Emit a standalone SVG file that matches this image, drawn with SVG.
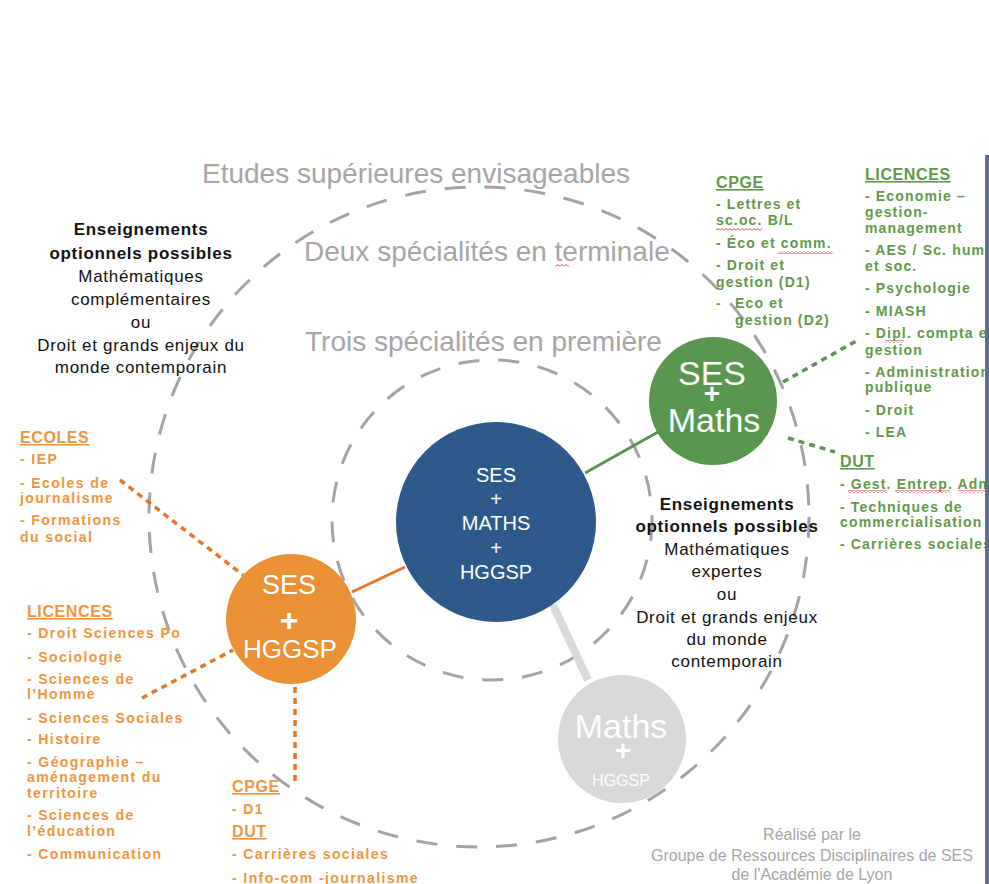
<svg xmlns="http://www.w3.org/2000/svg" width="989" height="884" viewBox="0 0 989 884">
<defs>
<style>
.title{font-family:"Liberation Sans",Arial,sans-serif;font-size:28px;fill:#A6A6A6}
.blk{font-family:"Liberation Sans",Arial,sans-serif;font-size:17px;fill:#111;letter-spacing:0.7px;text-anchor:middle}
.blk .b{font-weight:bold}
.g{font-family:"Liberation Sans",Arial,sans-serif;font-size:14px;font-weight:bold;fill:#62994A;letter-spacing:1.15px}
.o{font-family:"Liberation Sans",Arial,sans-serif;font-size:14px;font-weight:bold;fill:#F0953E;letter-spacing:1.4px}
.hd{font-size:16px;letter-spacing:0.6px;text-decoration:underline}
.ring{fill:none;stroke:#A3A3A3;stroke-width:3;stroke-dasharray:21 19}
.nt{font-family:"Liberation Sans",Arial,sans-serif;fill:#FFFFFF;text-anchor:middle}
.credit{font-family:"Liberation Sans",Arial,sans-serif;font-size:16px;fill:#A6A6A6;text-anchor:middle}
.dotg{stroke:#5A9650;stroke-width:3.5;stroke-dasharray:6 5;fill:none}
.doto{stroke:#E6762A;stroke-width:3.5;stroke-dasharray:6 5;fill:none}
</style>
<pattern id="wave" width="4" height="3" patternUnits="userSpaceOnUse">
<path d="M0,2.5 L2,0.5 L4,2.5" fill="none" stroke="#E02020" stroke-width="0.9"/>
</pattern>
<clipPath id="rightclip"><rect x="0" y="0" width="985" height="884"/></clipPath>
</defs>
<rect width="989" height="884" fill="#FFFFFF"/>

<g id="rings">
<circle class="ring" cx="479" cy="517" r="330"/>
<circle class="ring" cx="492" cy="520" r="160"/>
</g>

<g id="titles">
<text class="title" x="202" y="183">Etudes supérieures envisageables</text>
<text class="title" x="304" y="261">Deux spécialités en terminale</text>
<text class="title" x="305" y="351">Trois spécialités en première</text>
</g>

<g id="connectors">
<line x1="585" y1="473" x2="658" y2="432" stroke="#5A9650" stroke-width="3"/>
<line x1="405" y1="567" x2="352" y2="592" stroke="#E6762A" stroke-width="3"/>
<line x1="553" y1="605" x2="588" y2="680" stroke="#DADADA" stroke-width="8"/>
<line class="dotg" x1="783" y1="382" x2="858" y2="340"/>
<line class="dotg" x1="788" y1="438" x2="835" y2="452"/>
<line class="doto" x1="120" y1="480" x2="243" y2="575"/>
<line class="doto" x1="142" y1="698" x2="233" y2="650"/>
<line class="doto" x1="295" y1="687" x2="295" y2="783"/>
</g>

<g id="node-ses-maths-hggsp">
<circle cx="496" cy="522" r="100" fill="#2E5A8B"/>
<text class="nt" font-size="20" x="496" y="482">SES</text>
<text class="nt" font-size="20" x="496" y="506">+</text>
<text class="nt" font-size="20" x="496" y="530">MATHS</text>
<text class="nt" font-size="20" x="496" y="555">+</text>
<text class="nt" font-size="20" x="496" y="579">HGGSP</text>
</g>

<g id="node-ses-maths">
<circle cx="713" cy="401" r="64" fill="#5A9650"/>
<text class="nt" font-size="34" x="712" y="385">SES</text>
<text class="nt" font-size="28" font-weight="bold" x="712" y="403">+</text>
<text class="nt" font-size="34" x="714" y="432">Maths</text>
</g>

<g id="node-ses-hggsp">
<circle cx="291" cy="619" r="65" fill="#EA9035"/>
<text class="nt" font-size="27" x="289" y="594">SES</text>
<text class="nt" font-size="32" font-weight="bold" x="289" y="631">+</text>
<text class="nt" font-size="26" x="290" y="658">HGGSP</text>
</g>

<g id="node-maths-hggsp">
<circle cx="622" cy="739" r="64" fill="#D9D9D9"/>
<text class="nt" font-size="34" x="621" y="738">Maths</text>
<text class="nt" font-size="28" font-weight="bold" x="623" y="760">+</text>
<text class="nt" font-size="16" x="621" y="786">HGGSP</text>
</g>

<g id="options-premiere" class="blk">
<text class="b" x="141" y="235">Enseignements</text>
<text class="b" x="141" y="259">optionnels possibles</text>
<text x="141" y="282">Mathématiques</text>
<text x="141" y="305">complémentaires</text>
<text x="141" y="328">ou</text>
<text x="141" y="351">Droit et grands enjeux du</text>
<text x="141" y="373">monde contemporain</text>
</g>

<g id="options-terminale" class="blk">
<text class="b" x="727" y="510">Enseignements</text>
<text class="b" x="727" y="532">optionnels possibles</text>
<text x="727" y="555">Mathématiques</text>
<text x="727" y="577">expertes</text>
<text x="727" y="600">ou</text>
<text x="727" y="623">Droit et grands enjeux</text>
<text x="727" y="645">du monde</text>
<text x="727" y="667">contemporain</text>
</g>

<g id="green-cpge" class="g">
<text class="hd" x="716" y="188">CPGE</text>
<text x="716" y="209">- Lettres et</text>
<text x="716" y="225">sc.oc. B/L</text>
<text x="716" y="248">- Éco et comm.</text>
<text x="716" y="270">- Droit et</text>
<text x="716" y="287">gestion (D1)</text>
<text x="716" y="308">-</text>
<text x="735" y="308">Eco et</text>
<text x="735" y="325">gestion (D2)</text>
</g>

<g id="green-licences" class="g" clip-path="url(#rightclip)">
<text class="hd" x="865" y="180">LICENCES</text>
<text x="865" y="201">- Economie –</text>
<text x="865" y="217">gestion-</text>
<text x="865" y="233">management</text>
<text x="865" y="255">- AES / Sc. hum.</text>
<text x="865" y="271">et soc.</text>
<text x="865" y="293">- Psychologie</text>
<text x="865" y="316">- MIASH</text>
<text x="865" y="338">- Dipl. compta et</text>
<text x="865" y="355">gestion</text>
<text x="865" y="377">- Administration</text>
<text x="865" y="392">publique</text>
<text x="865" y="415">- Droit</text>
<text x="865" y="437">- LEA</text>
</g>

<g id="green-dut" class="g" clip-path="url(#rightclip)">
<text class="hd" x="840" y="467">DUT</text>
<text x="840" y="489">- Gest. Entrep. Adm.</text>
<text x="840" y="512">- Techniques de</text>
<text x="840" y="527">commercialisation</text>
<text x="840" y="549">- Carrières sociales</text>
</g>

<g id="orange-ecoles" class="o">
<text class="hd" x="20" y="443">ECOLES</text>
<text x="20" y="464">- IEP</text>
<text x="20" y="488">- Ecoles de</text>
<text x="20" y="503">journalisme</text>
<text x="20" y="525">- Formations</text>
<text x="20" y="542">du social</text>
</g>

<g id="orange-licences" class="o">
<text class="hd" x="27" y="617">LICENCES</text>
<text x="27" y="638">- Droit Sciences Po</text>
<text x="27" y="662">- Sociologie</text>
<text x="27" y="684">- Sciences de</text>
<text x="27" y="699">l’Homme</text>
<text x="27" y="723">- Sciences Sociales</text>
<text x="27" y="744">- Histoire</text>
<text x="27" y="767">- Géographie –</text>
<text x="27" y="782">aménagement du</text>
<text x="27" y="798">territoire</text>
<text x="27" y="820">- Sciences de</text>
<text x="27" y="836">l’éducation</text>
<text x="27" y="859">- Communication</text>
</g>

<g id="orange-cpge-dut" class="o">
<text class="hd" x="232" y="792">CPGE</text>
<text x="232" y="814">- D1</text>
<text class="hd" x="232" y="837">DUT</text>
<text x="232" y="859">- Carrières sociales</text>
<text x="232" y="883">- Info-com -journalisme</text>
</g>

<g id="credits">
<text class="credit" x="812" y="840">Réalisé par le</text>
<text class="credit" x="812" y="861">Groupe de Ressources Disciplinaires de SES</text>
<text class="credit" x="812" y="880">de l'Académie de Lyon</text>
</g>

<g id="spellcheck">
<rect x="716" y="228" width="46" height="3" fill="url(#wave)"/>
<rect x="778" y="251" width="55" height="3" fill="url(#wave)"/>
<rect x="885" y="340" width="19" height="3" fill="url(#wave)"/>
<rect x="848" y="490" width="39" height="3" fill="url(#wave)"/>
<rect x="895" y="490" width="55" height="3" fill="url(#wave)"/>
<rect x="958" y="490" width="27" height="3" fill="url(#wave)"/>
<rect x="555" y="264" width="14" height="3" fill="url(#wave)"/>
</g>

<rect id="edge" x="985" y="155" width="4" height="729" fill="#5A7094"/>
</svg>
